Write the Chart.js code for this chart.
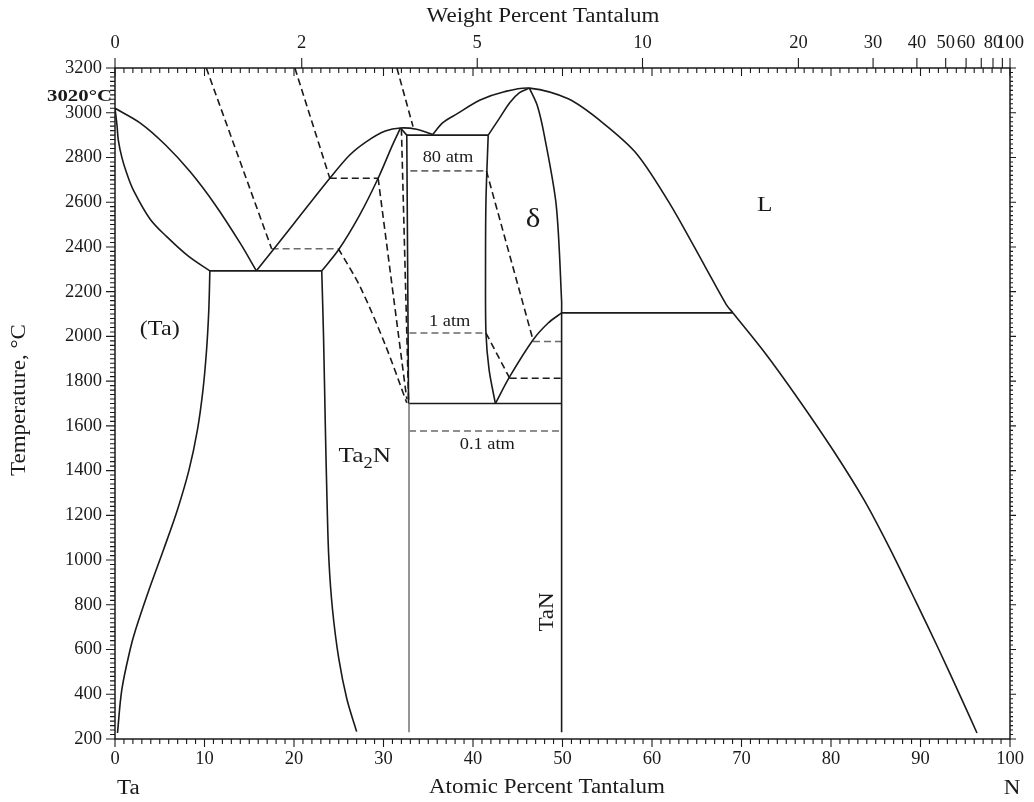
<!DOCTYPE html>
<html>
<head>
<meta charset="utf-8">
<script src="https://cdn.jsdelivr.net/npm/chart.js@4.4.1/dist/chart.umd.min.js"></script>
<style>
html, body { margin: 0; padding: 0; background: #fff; }
#wrap { width: 1034px; height: 802px; }
</style>
</head>
<body>
<div id="wrap"><canvas id="phaseChart"></canvas></div>
<script>
// Ta-N phase diagram: composition in at.% N (x), temperature in deg C (y)
var atomicTicks = [0, 10, 20, 30, 40, 50, 60, 70, 80, 90, 100];
var weightTicks = [0, 2, 5, 10, 20, 30, 40, 50, 60, 80, 100];
var weightExtraTicks = [70, 90];

// solid phase boundaries, [at.% N, deg C]
var taLiquidus = [[0, 3020], [2.79, 2955], [5.59, 2858], [8.38, 2737], [11.17, 2590], [13.97, 2418], [15.8, 2293]];
var taSolidus = [[0, 3020], [0.22, 2945], [0.37, 2878], [0.78, 2798], [1.31, 2729], [2.04, 2655], [3.91, 2525], [5.78, 2446], [8.16, 2360], [10.6, 2293]];
var taSolvus = [[10.6, 2293], [10.48, 2118], [10.23, 1939], [9.83, 1761], [9.21, 1582], [8.27, 1403], [6.97, 1224], [5.41, 1045], [3.80, 867], [2.30, 688], [1.68, 598], [0.76, 420], [0.28, 227]];
var eutecticLine = [[10.6, 2293], [23.1, 2293]];
var ta2nLiquidus = [[15.8, 2293], [20.0, 2505], [24.0, 2707], [26.2, 2810], [28.1, 2871], [30.2, 2918], [31.9, 2932], [33.7, 2926], [35.5, 2903]];
var ta2nSolidus = [[23.1, 2293], [24.96, 2386], [27.3, 2540], [29.4, 2707], [31.0, 2855], [31.9, 2932]];
var ta2nLeft = [[23.1, 2293], [23.3, 2000], [23.5, 1600], [23.7, 1250], [23.9, 1000], [24.3, 780], [25.0, 560], [25.9, 380], [27.0, 233]];
var ta2nRight = [[31.9, 2932], [32.6, 2900], [32.8, 1700]];
var ta2nRightLow = [[32.85, 1700], [32.85, 230]];
var peritecticLine = [[32.6, 2900], [41.7, 2900]];
var liquidusN = [[35.5, 2903], [36.6, 2955], [38.2, 2995], [40.8, 3057], [43.5, 3094], [46.3, 3110], [50.7, 3061], [54.5, 2955], [58.3, 2816], [62.1, 2586], [65.95, 2311], [68.3, 2142], [69.05, 2105]];
var liquidusLow = [[69.05, 2105], [72.63, 1926], [76.42, 1716], [80.22, 1492], [83.69, 1269], [86.48, 1059], [89.39, 822], [92.07, 598], [94.64, 375], [96.31, 227]];
var deltaLeftUpper = [[41.7, 2900], [43.0, 2978], [44.1, 3045], [45.2, 3090], [46.3, 3110]];
var deltaLeftLower = [[41.7, 2900], [41.45, 2610], [41.4, 2300], [41.45, 2014], [41.8, 1850], [42.5, 1700]];
var deltaRight = [[46.3, 3110], [47.2, 3030], [48.0, 2892], [49.3, 2586], [49.9, 2158], [49.9, 2105]];
var deltaLower = [[42.5, 1700], [44.1, 1820], [46.7, 1984], [48.4, 2060], [49.9, 2105]];
var ta2nTanLine = [[32.8, 1700], [49.9, 1700]];
var tanLine = [[49.9, 2105], [49.9, 230]];
var liquidTanLine = [[49.9, 2105], [69.05, 2105]];

// nitrogen isobars (dashed)
var p01Liquid = [[10.2, 3200], [17.5, 2392]];
var p01Tie = [[17.5, 2392], [24.96, 2392]];
var p01Ta2n = [[24.96, 2392], [27.4, 2221], [30.2, 1962], [32.6, 1703]];
var p01Tie2 = [[32.85, 1577], [49.9, 1577]];
var p1Liquid = [[20.1, 3200], [24.0, 2707]];
var p1Tie = [[24.0, 2707], [29.4, 2707]];
var p1Ta2n = [[29.4, 2707], [32.6, 1720]];
var p1Tie2 = [[32.9, 2015], [41.45, 2015]];
var p1Delta = [[41.45, 2015], [44.1, 1813]];
var p1Tie3 = [[44.1, 1813], [49.9, 1813]];
var p80Liquid = [[31.5, 3200], [33.3, 2938]];
var p80Ta2n = [[32.0, 2928], [32.8, 1716]];
var p80Tie = [[33.0, 2740], [41.5, 2740]];
var p80Delta = [[41.5, 2740], [46.7, 1985]];
var p80Tie2 = [[46.7, 1977], [49.9, 1977]];

var SERIF = "'Liberation Serif', 'DejaVu Serif', serif";
var INK = '#1a1a1a';
var GREY = '#6a6a6a';
var STRETCH = 1.15;   // the original lettering is wider than Liberation Serif

// wt.% N -> at.% N, for the top axis
function wtToAt(w) {
    if (w <= 0) return 0;
    if (w >= 100) return 100;
    var n = w / 14.007, t = (100 - w) / 180.948;
    return 100 * n / (n + t);
}

function line(pts, opts) {
    opts = opts || {};
    return {
        data: pts.map(function (p) { return { x: p[0], y: p[1] }; }),
        showLine: true,
        borderColor: opts.color || INK,
        borderWidth: opts.width || 1.6,
        borderDash: opts.dash ? [7, 4] : [],
        tension: opts.tension || 0,
        pointRadius: 0,
        fill: false
    };
}

var datasets = [
    line(taLiquidus, { tension: 0.3 }),
    line(taSolidus, { tension: 0.35 }),
    line(taSolvus, { tension: 0.35 }),
    line(eutecticLine),
    line(ta2nLiquidus, { tension: 0.3 }),
    line(ta2nSolidus, { tension: 0.3 }),
    line(ta2nLeft, { tension: 0.35 }),
    line(ta2nRight),
    line(ta2nRightLow, { color: '#8a8a8a', width: 1.8 }),
    line(peritecticLine),
    line(liquidusN, { tension: 0.3 }),
    line(liquidusLow, { tension: 0.3 }),
    line(deltaLeftUpper, { tension: 0.3 }),
    line(deltaLeftLower, { tension: 0.3 }),
    line(deltaRight, { tension: 0.3 }),
    line(deltaLower, { tension: 0.3 }),
    line(ta2nTanLine),
    line(tanLine),
    line(liquidTanLine),
    line(p01Liquid, { dash: true }),
    line(p01Tie, { dash: true, color: GREY }),
    line(p01Ta2n, { dash: true, tension: 0.3 }),
    line(p01Tie2, { dash: true, color: GREY }),
    line(p1Liquid, { dash: true }),
    line(p1Tie, { dash: true }),
    line(p1Ta2n, { dash: true }),
    line(p1Tie2, { dash: true, color: GREY }),
    line(p1Delta, { dash: true }),
    line(p1Tie3, { dash: true }),
    line(p80Liquid, { dash: true }),
    line(p80Ta2n, { dash: true }),
    line(p80Tie, { dash: true, color: GREY }),
    line(p80Delta, { dash: true }),
    line(p80Tie2, { dash: true, color: GREY })
];

// text with a horizontal stretch, optional rotation
function txt(ctx, s, x, y, font, align, sx, rot) {
    ctx.save();
    ctx.translate(x, y);
    if (rot) ctx.rotate(rot);
    ctx.scale(sx || STRETCH, 1);
    ctx.font = font;
    ctx.textAlign = align || 'center';
    ctx.textBaseline = 'middle';
    ctx.fillText(s, 0, 0);
    ctx.restore();
}

// frame, tick marks and text labels
var decorPlugin = {
    id: 'decor',
    afterDraw: function (chart) {
        var ctx = chart.ctx, a = chart.chartArea;
        var xs = chart.scales.x, ys = chart.scales.y;
        ctx.save();
        ctx.strokeStyle = INK;
        ctx.fillStyle = INK;
        ctx.lineWidth = 1.5;
        ctx.strokeRect(a.left, a.top, a.right - a.left, a.bottom - a.top);

        ctx.lineWidth = 1.1;
        ctx.beginPath();
        for (var v = 0; v <= 100; v++) {
            var px = xs.getPixelForValue(v);
            var len = v % 10 === 0 ? 8 : 5;
            ctx.moveTo(px, a.bottom); ctx.lineTo(px, a.bottom + len);
            ctx.moveTo(px, a.top); ctx.lineTo(px, a.top + len);
        }
        for (var t = 200; t <= 3200; t += 20) {
            var py = ys.getPixelForValue(t);
            var major = t % 200 === 0;
            ctx.moveTo(a.left, py); ctx.lineTo(a.left - (major ? 9 : 5), py);
            ctx.moveTo(a.right, py); ctx.lineTo(a.right + (major ? 6 : 3), py);
        }
        weightTicks.concat(weightExtraTicks).forEach(function (w) {
            var px = xs.getPixelForValue(wtToAt(w));
            ctx.moveTo(px, a.top); ctx.lineTo(px, a.top - 10);
        });
        ctx.stroke();

        var f20 = '20px ' + SERIF;
        txt(ctx, 'Weight Percent Tantalum', 543, 17, f20);
        txt(ctx, 'Atomic Percent Tantalum', 547, 788, f20);
        txt(ctx, 'Ta', 117, 789, f20, 'left');
        txt(ctx, 'N', 1012, 789, f20);
        txt(ctx, '3020\u00B0C', 112, 97, 'bold 16px ' + SERIF, 'right', 1.3);
        txt(ctx, 'Temperature, \u00B0C', 20, 400, f20, 'center', STRETCH, -Math.PI / 2);

        function X(v) { return xs.getPixelForValue(v); }
        function Y(v) { return ys.getPixelForValue(v); }
        txt(ctx, '(Ta)', X(5.0), Y(2030), '21px ' + SERIF);
        txt(ctx, 'L', X(72.6), Y(2588), '22px ' + SERIF);
        txt(ctx, '\u03B4', X(46.7), Y(2520), '27px ' + SERIF);
        txt(ctx, '80 atm', X(37.2), Y(2798), '16px ' + SERIF);
        txt(ctx, '1 atm', X(37.4), Y(2065), '16px ' + SERIF);
        txt(ctx, '0.1 atm', X(41.6), Y(1515), '16px ' + SERIF);
        txt(ctx, 'TaN', X(48.4), Y(768), '20px ' + SERIF, 'center', STRETCH, -Math.PI / 2);

        // Ta2N with subscript
        ctx.save();
        ctx.translate(X(27.9), Y(1470) + 7);
        ctx.scale(STRETCH, 1);
        ctx.textAlign = 'left';
        ctx.textBaseline = 'alphabetic';
        ctx.font = '22px ' + SERIF;
        var w1 = ctx.measureText('Ta').width, w3 = ctx.measureText('N').width;
        ctx.font = '16px ' + SERIF;
        var w2 = ctx.measureText('2').width;
        var x0 = -(w1 + w2 + w3) / 2;
        ctx.font = '22px ' + SERIF;
        ctx.fillText('Ta', x0, 0);
        ctx.fillText('N', x0 + w1 + w2, 0);
        ctx.font = '16px ' + SERIF;
        ctx.fillText('2', x0 + w1, 6);
        ctx.restore();

        ctx.restore();
    }
};

var tickFont = { family: SERIF, size: 18.5 };

// keep the plot box fixed: no automatic room for end labels
function fitX(h) {
    return function (s) { s.height = h; s.paddingLeft = 0; s.paddingRight = 0; };
}

new Chart(document.getElementById('phaseChart'), {
    type: 'scatter',
    data: { datasets: datasets },
    options: {
        responsive: true,
        maintainAspectRatio: false,
        animation: false,
        layout: { padding: { left: 0, right: 24, top: 0, bottom: 0 } },
        plugins: { legend: { display: false }, tooltip: { enabled: false } },
        scales: {
            x: {
                type: 'linear', position: 'bottom', min: 0, max: 100,
                afterBuildTicks: function (s) { s.ticks = atomicTicks.map(function (v) { return { value: v }; }); },
                afterFit: fitX(63),
                grid: { display: false, drawTicks: false },
                border: { display: false },
                ticks: { font: tickFont, color: INK, padding: 9, maxRotation: 0, autoSkip: false,
                    callback: function (v) { return String(v); } }
            },
            xTop: {
                type: 'linear', position: 'top', min: 0, max: 100,
                afterBuildTicks: function (s) { s.ticks = weightTicks.map(function (w) { return { value: wtToAt(w) }; }); },
                afterFit: fitX(68),
                grid: { display: false, drawTicks: false },
                border: { display: false },
                ticks: {
                    font: tickFont, color: INK, padding: 14, maxRotation: 0, autoSkip: false,
                    callback: function (v, i) { return String(weightTicks[i]); }
                }
            },
            y: {
                type: 'linear', position: 'left', min: 200, max: 3200,
                ticks: { stepSize: 200, font: tickFont, color: INK, padding: 13,
                    callback: function (v) { return String(v); } },
                afterFit: function (s) { s.width = 115; },
                grid: { display: false, drawTicks: false },
                border: { display: false }
            }
        }
    },
    plugins: [decorPlugin]
});
</script>
</body>
</html>
